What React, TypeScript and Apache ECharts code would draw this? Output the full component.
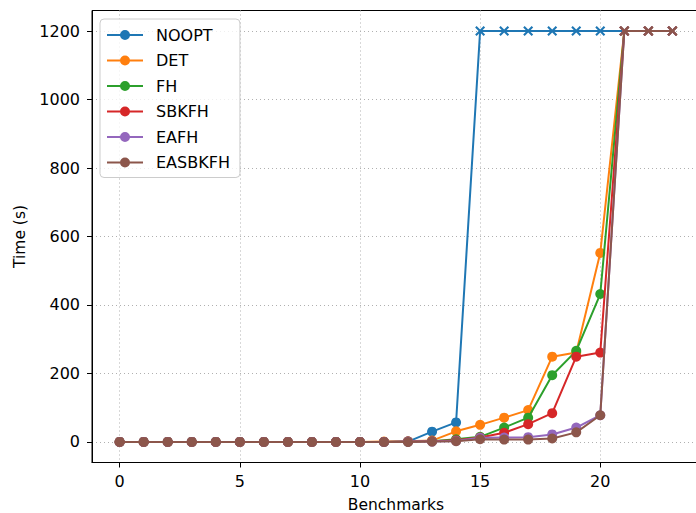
import React, { useEffect, useRef } from "react";
import * as echarts from "echarts";

const benchmarks: number[] = Array.from({ length: 24 }, (_, i) => i);
const TIMEOUT = 1200;

const seriesNames = ["NOOPT", "DET", "FH", "SBKFH", "EAFH", "EASBKFH"];
const colors = ["#1f77b4", "#ff7f0e", "#2ca02c", "#d62728", "#9467bd", "#8c564b"];

const noopt = [0, 0, 0, 0, 0, 0, 0, 0, 0, 0, 0, 0, 1, 30, 57, 1200, 1200, 1200, 1200, 1200, 1200, 1200, 1200, 1200];
const det = [0, 0, 0, 0, 0, 0, 0, 0, 0, 0, 0, 1, 2, 4, 31, 50, 71, 93, 249, 261, 552, 1200, 1200, 1200];
const fh = [0, 0, 0, 0, 0, 0, 0, 0, 0, 0, 0, 0, 1, 2, 8, 15, 42, 71, 195, 266, 432, 1200, 1200, 1200];
const sbkfh = [0, 0, 0, 0, 0, 0, 0, 0, 0, 0, 0, 0, 1, 2, 5, 13, 27, 52, 84, 249, 261, 1200, 1200, 1200];
const eafh = [0, 0, 0, 0, 0, 0, 0, 0, 0, 0, 0, 0, 1, 1, 3, 12, 13, 14, 22, 42, 78, 1200, 1200, 1200];
const easbkfh = [0, 0, 0, 0, 0, 0, 0, 0, 0, 0, 0, 0, 0, 1, 2, 8, 7, 7, 10, 28, 78, 1200, 1200, 1200];

const allValues = [noopt, det, fh, sbkfh, eafh, easbkfh];

const xTicks = [0, 5, 10, 15, 20];
const yTicks = [0, 200, 400, 600, 800, 1000, 1200];

const FONT = "DejaVu Sans";
const FS = 16;
const X_SYMBOL =
  "path://M3,0 L10,7 L17,0 L20,3 L13,10 L20,17 L17,20 L10,13 L3,20 L0,17 L7,10 L0,3 Z";
const LEGEND_ICON = "path://M0,4H36V6H0Z M13,5A5,5 0 1,1 23,5A5,5 0 1,1 13,5Z";

export default function App() {
  const ref = useRef<HTMLDivElement>(null);
  useEffect(() => {
    if (!ref.current) return;
    const chart = echarts.init(ref.current, null, { renderer: "svg" });
    const series = seriesNames.map((name, si) => ({
      name,
      type: "line",
      data: allValues[si].map((v, i) =>
        v >= TIMEOUT
          ? { value: [benchmarks[i], v], symbol: X_SYMBOL, symbolSize: 10 }
          : { value: [benchmarks[i], v], symbol: "circle", symbolSize: 10 }
      ),
      color: colors[si],
      lineStyle: { width: 2, color: colors[si] },
      itemStyle: { color: colors[si], borderWidth: 0 },
      showAllSymbol: true,
      clip: false,
      emphasis: { disabled: true },
      z: 2 + si,
    }));
    chart.setOption({
      animation: false,
      textStyle: { fontFamily: FONT },
      grid: {
        left: 92,
        top: 10.5,
        width: 608,
        height: 452,
        show: true,
        borderColor: "#000",
        borderWidth: 1,
        backgroundColor: "transparent",
        containLabel: false,
        outerBoundsMode: "none",
      },
      legend: {
        left: 100,
        top: 19,
        orient: "vertical",
        data: seriesNames.map((n) => ({ name: n, icon: LEGEND_ICON })),
        itemWidth: 36,
        itemHeight: 10,
        itemGap: 7.5,
        padding: [7, 10, 6, 7],
        backgroundColor: "rgba(255,255,255,0.8)",
        borderColor: "#cccccc",
        borderWidth: 1,
        borderRadius: 4,
        textStyle: {
          fontFamily: FONT,
          fontSize: FS,
          color: "#000",
          lineHeight: 18,
          padding: [0, 0, 0, 8],
        },
      },
      xAxis: {
        type: "value",
        min: -1.15,
        max: 24.15,
        name: "Benchmarks",
        nameLocation: "middle",
        nameGap: 35,
        nameTextStyle: { fontFamily: FONT, fontSize: 15.5, color: "#000", lineHeight: 14 },
        axisLine: { show: true, onZero: false, lineStyle: { color: "#000", width: 1 } },
        axisTick: {
          show: true,
          length: 5,
          customValues: xTicks,
          lineStyle: { color: "#000" },
        },
        axisLabel: {
          customValues: xTicks,
          fontFamily: FONT,
          fontSize: FS,
          color: "#000",
          margin: 11,
        },
        splitLine: {
          show: true,
          lineStyle: { color: "#b0b0b0", type: [1, 3], width: 1 },
        },
      },
      yAxis: {
        type: "value",
        min: -60,
        max: 1260,
        name: "Time (s)",
        nameLocation: "middle",
        nameGap: 61,
        nameTextStyle: { fontFamily: FONT, fontSize: 15.5, color: "#000" },
        axisLine: { show: true, onZero: false, lineStyle: { color: "#000", width: 1 } },
        axisTick: {
          show: true,
          length: 5,
          customValues: yTicks,
          lineStyle: { color: "#000" },
        },
        axisLabel: {
          customValues: yTicks,
          formatter: (v: number) => String(v),
          fontFamily: FONT,
          fontSize: FS,
          color: "#000",
          margin: 12,
        },
        splitLine: {
          show: true,
          lineStyle: { color: "#b0b0b0", type: [1, 3], width: 1 },
        },
      },
      series,
    });
    return () => chart.dispose();
  }, []);
  return (
    <div
      ref={ref}
      style={{ position: "absolute", left: 0, top: 0, width: 696, height: 513, background: "#fff" }}
    />
  );
}
